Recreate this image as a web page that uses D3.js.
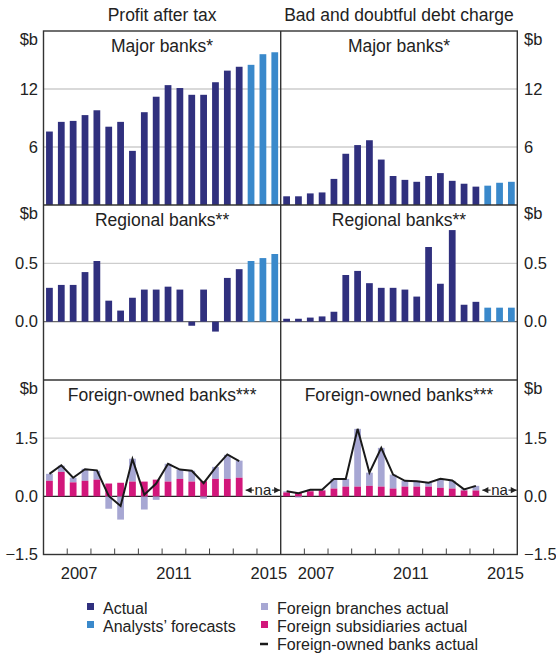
<!DOCTYPE html>
<html><head><meta charset="utf-8">
<script src="https://cdn.jsdelivr.net/npm/d3@7/dist/d3.min.js"></script>
<style>
html,body{margin:0;padding:0;background:#fff;}
text{font-family:"Liberation Sans",Arial,sans-serif;fill:#222;}
</style></head>
<body><svg id="c" width="556" height="657"></svg>
<script>
// ---------- data ----------
const periods = ["2006H1","2006H2","2007H1","2007H2","2008H1","2008H2","2009H1","2009H2","2010H1","2010H2",
                 "2011H1","2011H2","2012H1","2012H2","2013H1","2013H2","2014H1","2014H2","2015H1","2015H2"];
const forecastPeriods = ["2014H2","2015H1","2015H2"];
const majorProfit = [7.6, 8.6, 8.7, 9.3, 9.8, 8.1, 8.6, 5.6, 9.6, 11.2, 12.4, 12.1, 11.4, 11.4, 12.7, 13.9, 14.3, 14.5, 15.6, 15.8];
const majorBDD    = [0.9, 0.9, 1.2, 1.3, 2.7, 5.3, 6.2, 6.7, 4.7, 3.0, 2.6, 2.4, 3.0, 3.3, 2.5, 2.2, 1.9, 2.0, 2.3, 2.4];
const regionalProfit = [0.29, 0.315, 0.315, 0.425, 0.52, 0.18, 0.095, 0.205, 0.275, 0.275, 0.30, 0.275, -0.035, 0.275, -0.085, 0.375, 0.45, 0.52, 0.545, 0.58];
const regionalBDD    = [0.025, 0.025, 0.035, 0.045, 0.085, 0.40, 0.435, 0.33, 0.29, 0.29, 0.275, 0.215, 0.64, 0.325, 0.785, 0.145, 0.17, 0.12, 0.12, 0.12];
const foreignProfitSubs     = [0.40, 0.63, 0.36, 0.40, 0.43, 0.33, 0.35, 0.38, 0.38, 0.43, 0.38, 0.45, 0.38, 0.39, 0.45, 0.45, 0.48];
const foreignProfitBranches = [0.18, 0.16, 0.12, 0.31, 0.23, -0.32, -0.60, 0.59, -0.34, -0.09, 0.46, 0.24, 0.28, -0.06, 0.31, 0.62, 0.44];
const foreignProfitTotal    = [0.58, 0.80, 0.48, 0.70, 0.67, 0.01, -0.25, 0.96, 0.04, 0.33, 0.84, 0.69, 0.66, 0.34, 0.74, 1.08, 0.91];
const foreignBDDSubs     = [0.10, 0.09, 0.13, 0.15, 0.20, 0.25, 0.25, 0.27, 0.25, 0.20, 0.25, 0.25, 0.25, 0.22, 0.20, 0.15, 0.15];
const foreignBDDBranches = [0.03, -0.03, 0.04, 0.02, 0.25, 0.20, 1.49, 0.34, 1.00, 0.36, 0.15, 0.15, 0.10, 0.23, 0.20, 0.03, 0.12];
const foreignBDDTotal    = [0.13, 0.08, 0.17, 0.17, 0.45, 0.45, 1.74, 0.61, 1.25, 0.56, 0.40, 0.39, 0.35, 0.45, 0.41, 0.18, 0.27];
const yearTicks  = [2007, 2008, 2009, 2010, 2011, 2012, 2013, 2014, 2015];
const yearLabels = [2007, 2011, 2015];
const columnTitles = ["Profit after tax", "Bad and doubtful debt charge"];
const rowTitles = ["Major banks*", "Regional banks**", "Foreign-owned banks***"];
const rowDomains = [[0, 18], [-0.5, 1.0], [-1.5, 3.0]];
const rowTicks = [[6, 12], [0, 0.5], [-1.5, 0, 1.5]];
const rowTickFormat = [d3.format("d"), d3.format(".1f"), d3.format(".1f")];
const legendLeft  = ["Actual", "Analysts\u2019 forecasts"];
const legendRight = ["Foreign branches actual", "Foreign subsidiaries actual", "Foreign-owned banks actual"];

// ---------- style ----------
const C = {actual:"#30307e", forecast:"#3a89cb", branch:"#a7a7d3", subs:"#d2177b", line:"#1a1a1a",
           grid:"#cdcdcd", frame:"#333"};

const svg = d3.select("#c");
svg.append("rect").attr("width",556).attr("height",657).attr("fill","#fff");

const colX = [[43.5, 280.7], [280.7, 517.3]];
const rowY = [[31, 205], [205, 380], [380, 554.5]];

const xBand = colX.map(r => d3.scaleBand().domain(periods).range(r).paddingInner(0.43).paddingOuter(0.215));
const xYear = colX.map(r => d3.scaleLinear().domain([2006, 2016]).range(r));
const yS = rowY.map((r, i) => d3.scaleLinear().domain(rowDomains[i]).range([r[1], r[0]]));

const gGrid = svg.append("g"), gBars = svg.append("g"), gTop = svg.append("g");

// gridlines
rowTicks.forEach((ticks, ri) => {
  ticks.forEach(t => {
    if (t === rowDomains[ri][0]) return;
    const zero = t === 0;
    gGrid.append("line").attr("x1", colX[0][0]).attr("x2", colX[1][1])
      .attr("y1", yS[ri](t)).attr("y2", yS[ri](t))
      .attr("stroke", zero ? (ri === 1 ? "#6a6a6a" : "#222") : C.grid)
      .attr("stroke-width", zero ? 1.3 : 1.3);
  });
});

// simple bars
function simpleBars(ci, ri, vals) {
  const x = xBand[ci], y = yS[ri];
  gBars.selectAll(null).data(periods.map((p, i) => ({p, v: vals[i]}))).enter().append("rect")
    .attr("x", d => x(d.p)).attr("width", x.bandwidth())
    .attr("y", d => y(Math.max(0, d.v))).attr("height", d => Math.abs(y(d.v) - y(0)))
    .attr("fill", d => forecastPeriods.includes(d.p) ? C.forecast : C.actual);
}
simpleBars(0, 0, majorProfit);
simpleBars(1, 0, majorBDD);
simpleBars(0, 1, regionalProfit);
simpleBars(1, 1, regionalBDD);

// stacked foreign bars + total line
function foreign(ci, subs, br, tot) {
  const x = xBand[ci], y = yS[2];
  const d = subs.map((s, i) => ({p: periods[i], s, b: br[i], t: tot[i]}));
  gBars.selectAll(null).data(d).enter().append("rect")
    .attr("x", e => x(e.p)).attr("width", x.bandwidth())
    .attr("y", e => e.b >= 0 ? y(e.s + e.b) : y(0))
    .attr("height", e => e.b >= 0 ? y(e.s) - y(e.s + e.b) : y(e.b) - y(0))
    .attr("fill", C.branch);
  gBars.selectAll(null).data(d).enter().append("rect")
    .attr("x", e => x(e.p)).attr("width", x.bandwidth())
    .attr("y", e => y(e.s)).attr("height", e => y(0) - y(e.s))
    .attr("fill", C.subs);
  gTop.append("path").datum(d)
    .attr("d", d3.line().x(e => x(e.p) + x.bandwidth() / 2).y(e => y(e.t)))
    .attr("fill", "none").attr("stroke", C.line).attr("stroke-width", 2).attr("stroke-linejoin", "miter");

  // na annotation
  const xl = x(periods[17]) - 2, xr = x(periods[19]) + x.bandwidth() + 2, yy = y(0.16), xc = (xl + xr) / 2;
  gTop.append("text").attr("x", xc).attr("y", yy).attr("dy", "0.33em").attr("text-anchor", "middle")
    .style("font-size", "15px").text("na");
  [[xl, xc - 9], [xc + 9, xr]].forEach(([a, b]) => {
    gTop.append("line").attr("x1", a).attr("x2", b).attr("y1", yy).attr("y2", yy)
      .attr("stroke", "#222").attr("stroke-width", 1.1);
  });
  gTop.append("path").attr("d", `M${xl},${yy}l6,-3.2v6.4z M${xr},${yy}l-6,-3.2v6.4z`).attr("fill", "#222");
}
foreign(0, foreignProfitSubs, foreignProfitBranches, foreignProfitTotal);
foreign(1, foreignBDDSubs, foreignBDDBranches, foreignBDDTotal);

// frame
const fr = gTop.append("g").attr("stroke", C.frame).attr("stroke-width", 1.4).attr("fill", "none");
fr.append("rect").attr("x", colX[0][0]).attr("y", rowY[0][0])
  .attr("width", colX[1][1] - colX[0][0]).attr("height", rowY[2][1] - rowY[0][0]);
fr.append("line").attr("x1", colX[0][1]).attr("x2", colX[0][1]).attr("y1", rowY[0][0]).attr("y2", rowY[2][1]);
[rowY[0][1], rowY[1][1]].forEach(yv =>
  fr.append("line").attr("x1", colX[0][0]).attr("x2", colX[1][1]).attr("y1", yv).attr("y2", yv).attr("stroke-width", 1.6));

// x ticks and labels
[0, 1].forEach(ci => {
  yearTicks.forEach(t => {
    gTop.append("line").attr("x1", xYear[ci](t)).attr("x2", xYear[ci](t))
      .attr("y1", rowY[2][1]).attr("y2", rowY[2][1] - 6).attr("stroke", "#444").attr("stroke-width", 1);
  });
  yearLabels.forEach(t => {
    gTop.append("text").attr("x", xYear[ci](t + 0.5)).attr("y", 579).attr("text-anchor", "middle")
      .style("font-size", "16.5px").text(t);
  });
});

// y labels
rowTicks.forEach((ticks, ri) => {
  const labs = ticks.map(t => ({y: yS[ri](t), s: rowTickFormat[ri](t), dy: "0.35em"}));
  labs.push({y: rowY[ri][0] + 14, s: "$b", dy: "0"});
  labs.forEach(l => {
    gTop.append("text").attr("x", 38).attr("y", l.y).attr("dy", l.dy).attr("text-anchor", "end")
      .style("font-size", "16.5px").text(l.s);
    gTop.append("text").attr("x", 524).attr("y", l.y).attr("dy", l.dy).attr("text-anchor", "start")
      .style("font-size", "16.5px").text(l.s);
  });
});

// titles
columnTitles.forEach((t, ci) => {
  gTop.append("text").attr("x", (colX[ci][0] + colX[ci][1]) / 2).attr("y", 21).attr("text-anchor", "middle")
    .style("font-size", "17.5px").text(t);
});
rowTitles.forEach((t, ri) => {
  [0, 1].forEach(ci => {
    gTop.append("text").attr("x", (colX[ci][0] + colX[ci][1]) / 2).attr("y", rowY[ri][0] + 21)
      .attr("text-anchor", "middle").style("font-size", "17.5px").text(t);
  });
});

// legend
const lg = svg.append("g").style("font-size", "16px");
const leftColors = [C.actual, C.forecast];
legendLeft.forEach((t, i) => {
  const yb = 614 + i * 18;
  lg.append("rect").attr("x", 87).attr("y", yb - 11).attr("width", 7).attr("height", 7).attr("fill", leftColors[i]);
  lg.append("text").attr("x", 103).attr("y", yb).text(t);
});
const rightColors = [C.branch, C.subs, null];
legendRight.forEach((t, i) => {
  const yb = 614 + i * 18;
  if (rightColors[i]) lg.append("rect").attr("x", 261).attr("y", yb - 11).attr("width", 7).attr("height", 7).attr("fill", rightColors[i]);
  else lg.append("line").attr("x1", 260).attr("x2", 268).attr("y1", yb - 6).attr("y2", yb - 6).attr("stroke", C.line).attr("stroke-width", 2.5);
  lg.append("text").attr("x", 277).attr("y", yb).text(t);
});
</script></body></html>
